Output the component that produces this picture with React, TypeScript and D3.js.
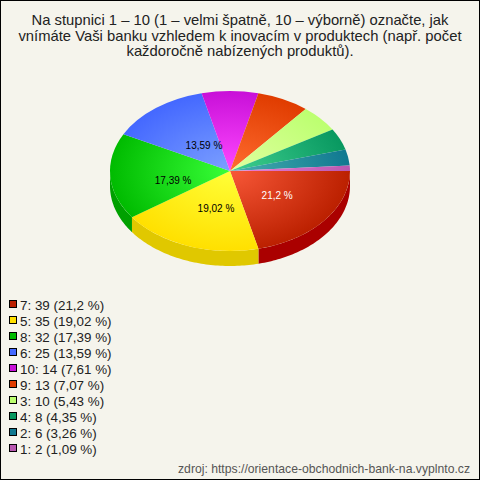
import * as d3 from 'd3';

// question title, one entry per line
const titleLines = [
  'Na stupnici 1 – 10 (1 – velmi špatně, 10 – výborně) označte, jak',
  'vnímáte Vaši banku vzhledem k inovacím v produktech (např. počet',
  'každoročně nabízených produktů).',
];
const categories = ['7', '5', '8', '6', '10', '9', '3', '4', '2', '1'];
const counts = [39, 35, 32, 25, 14, 13, 10, 8, 6, 2];
const percents = ['21,2', '19,02', '17,39', '13,59', '7,61', '7,07', '5,43', '4,35', '3,26', '1,09'];
const rimColors = ['#bb2000', '#ffe000', '#00bb00', '#4468ff', '#c810d8', '#e03c00', '#bcff70', '#089860', '#107890', '#b858b0'];
const hubColors = ['#f85838', '#ffff38', '#38ff38', '#7ca0ff', '#ff48ff', '#ff6c30', '#e0ffa0', '#40d090', '#48b0b0', '#f080d8'];
const sideColors = ['#aa0000', '#e0c800', '#00a000'];
const source = 'zdroj: https://orientace-obchodnich-bank-na.vyplnto.cz';

// slices that carry a percent label, with a hand nudge for each
const labelNudge = [[0, -1], [7, 0], [3, 6], [11, 5]];

const width = 480;
const height = 480;
const cx = 230;
const cy = 171;
const rx = 120;
const ry = 80;
const depth = 15;

export default function App() {
  const slices = d3.pie<number>()
    .sort(null)
    .startAngle(Math.PI / 2)
    .endAngle(Math.PI / 2 + 2 * Math.PI)(counts);

  const arc = d3.arc<d3.PieArcDatum<number>>().innerRadius(0).outerRadius(rx);

  // d3 angles start at 12 o'clock, wall points need them from 3 o'clock
  const wall = d3.area<number>()
    .x(t => cx + rx * Math.cos(t))
    .y0(t => cy + ry * Math.sin(t))
    .y1(t => cy + ry * Math.sin(t) + depth);

  const legendY = d3.scaleLinear().domain([0, 1]).range([305, 321]);

  return (
    <svg
      width={width}
      height={height}
      style={{ position: 'fixed', left: 0, top: 0, fontFamily: '"Liberation Sans", Arial, sans-serif' }}
    >
      <defs>
        {slices.map((s, i) => (
          <radialGradient key={i} id={`slice${i}`} gradientUnits="userSpaceOnUse" cx={0} cy={0} r={rx}>
            <stop offset="0" stopColor={hubColors[i]} />
            <stop offset="1" stopColor={rimColors[i]} />
          </radialGradient>
        ))}
      </defs>
      <rect x={0.5} y={0.5} width={width - 1} height={height - 1} fill="#f5f4ec" stroke="#000" />

      {titleLines.map((line, i) => (
        <text key={i} x={240} y={25 + i * 15.5} textAnchor="middle" fontSize={14.8} fill="#222">
          {line}
        </text>
      ))}

      {slices.map((s, i) => {
        const from = s.startAngle - Math.PI / 2;
        const to = Math.min(s.endAngle - Math.PI / 2, Math.PI);
        if (from >= Math.PI) return null;
        const steps = d3.range(from, to, 0.02).concat([to]);
        return <path key={i} d={wall(steps) ?? ''} fill={sideColors[i]} />;
      })}

      <g transform={`translate(${cx},${cy}) scale(1,${ry / rx})`}>
        {slices.map((s, i) => (
          <path key={i} d={arc(s) ?? ''} fill={`url(#slice${i})`} />
        ))}
      </g>

      {labelNudge.map(([dx, dy], i) => {
        const t = (slices[i].startAngle + slices[i].endAngle) / 2 - Math.PI / 2;
        return (
          <text
            key={i}
            x={cx + 0.5 * rx * Math.cos(t) + dx}
            y={cy + 0.5 * ry * Math.sin(t) + dy + 4}
            textAnchor="middle"
            fontSize={10}
            fill={i === 0 ? '#fff' : '#000'}
          >
            {percents[i]} %
          </text>
        );
      })}

      {categories.map((c, i) => (
        <g key={c}>
          <rect x={9.5} y={legendY(i) - 4.5} width={7} height={7} fill={rimColors[i]} stroke="#000" />
          <text x={20} y={legendY(i) + 5} fontSize={13.4} fill="#222">
            {`${c}: ${counts[i]} (${percents[i]} %)`}
          </text>
        </g>
      ))}

      <text x={470} y={473} textAnchor="end" fontSize={12.2} fill="#555">
        {source}
      </text>
    </svg>
  );
}
